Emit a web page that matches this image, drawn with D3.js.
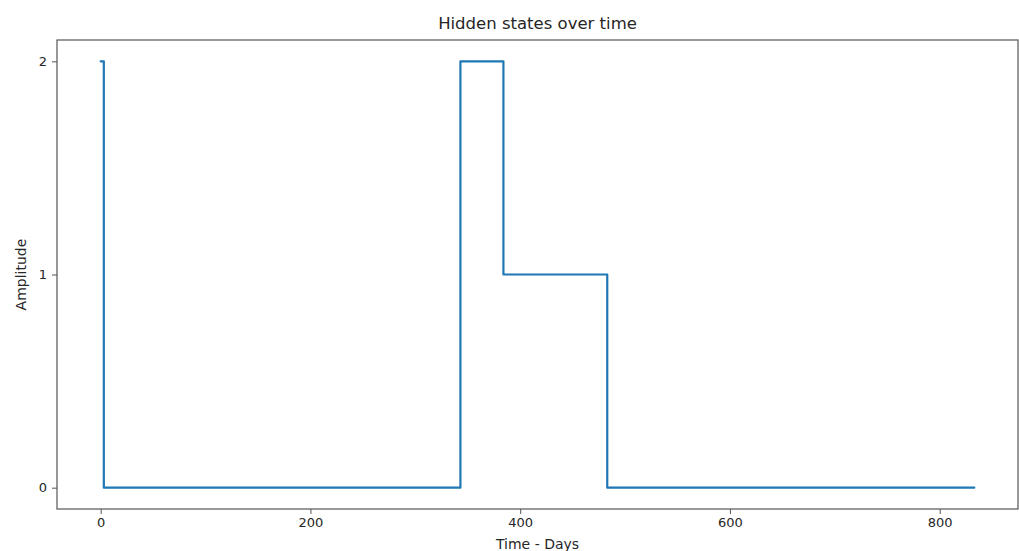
<!DOCTYPE html>
<html>
<head>
<meta charset="utf-8">
<script src="https://cdn.jsdelivr.net/npm/d3@7"></script>
<style>
  body { margin: 0; background: #fff; }
  svg text { font-family: "DejaVu Sans", sans-serif; fill: #262626; }
</style>
</head>
<body>
<svg></svg>
<script>
    // change points of the hidden state sequence (day where a state starts)
    const days = [0, 3, 343, 384, 483, 833]
    const states = [2, 0, 2, 1, 0, 0]
    const xTicks = [0, 200, 400, 600, 800]
    const yTicks = [0, 1, 2]

    const width = 1019
    const height = 551
    let margin = ({top: 40, right: 1, bottom: 42, left: 57})

    const data = days.map((d, i) => ({day: d, state: states[i]}))

    const svg = d3.select("svg")
      .attr("width", width)
      .attr("height", height)

    // matplotlib style 5% padding around the data
    const xPad = (d3.max(days) - d3.min(days)) * 0.05
    const x = d3.scaleLinear()
      .domain([d3.min(days) - xPad, d3.max(days) + xPad])
      .range([margin.left, width - margin.right])

    const y = d3.scaleLinear()
      .domain([-0.1, 2.1])
      .range([height - margin.bottom, margin.top])

    // 坐标轴
    const xAxis = g => g
      .attr("transform", `translate(0,${height - margin.bottom})`)
      .call(d3.axisBottom(x).tickValues(xTicks).tickFormat(d3.format("d")).tickSize(5).tickPadding(4).tickSizeOuter(0))
      .call(g => g.select(".domain").remove())
      .call(g => g.selectAll(".tick line").attr("stroke", "#555"))
      .call(g => g.selectAll(".tick text").attr("font-size", 13).attr("fill", "#262626"))

    const yAxis = g => g
      .attr("transform", `translate(${margin.left},0)`)
      .call(d3.axisLeft(y).tickValues(yTicks).tickFormat(d3.format("d")).tickSize(5).tickPadding(5).tickSizeOuter(0))
      .call(g => g.select(".domain").remove())
      .call(g => g.selectAll(".tick line").attr("stroke", "#555"))
      .call(g => g.selectAll(".tick text").attr("font-size", 13).attr("fill", "#262626"))

    // 折线
    const line = d3.line()
      .x(d => x(d.day))
      .y(d => y(d.state))
      .curve(d3.curveStepAfter)

    svg.append("path")
      .datum(data)
      .attr("fill", "none")
      .attr("stroke", "#1f77b4")
      .attr("stroke-width", 2.2)
      .attr("stroke-linejoin", "round")
      .attr("stroke-linecap", "round")
      .attr("d", line)

    // 边框
    svg.append("rect")
      .attr("x", margin.left)
      .attr("y", margin.top)
      .attr("width", width - margin.right - margin.left)
      .attr("height", height - margin.bottom - margin.top)
      .attr("fill", "none")
      .attr("stroke", "#555")
      .attr("stroke-width", 1.2)

    svg.append("g").call(xAxis)
    svg.append("g").call(yAxis)

    svg.append("text")
      .attr("x", (margin.left + width - margin.right) / 2)
      .attr("y", 29)
      .attr("text-anchor", "middle")
      .attr("font-size", 16.5)
      .text("Hidden states over time")

    svg.append("text")
      .attr("x", (margin.left + width - margin.right) / 2)
      .attr("y", 549)
      .attr("text-anchor", "middle")
      .attr("font-size", 14)
      .text("Time - Days")

    svg.append("text")
      .attr("transform", `translate(26,${(margin.top + height - margin.bottom) / 2}) rotate(-90)`)
      .attr("text-anchor", "middle")
      .attr("font-size", 14)
      .text("Amplitude")
</script>
</body>
</html>
